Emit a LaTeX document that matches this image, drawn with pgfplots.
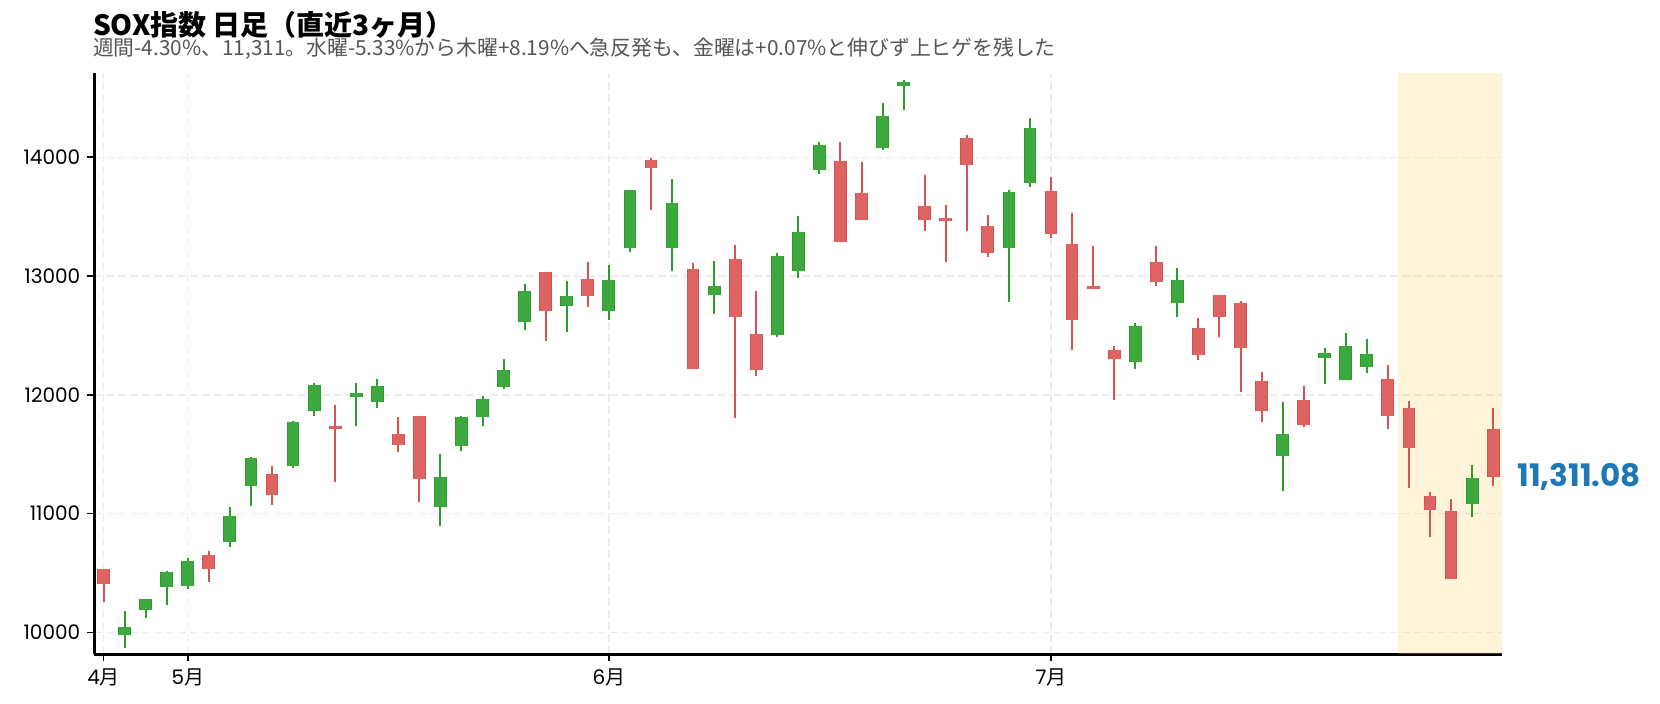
\documentclass[border=0pt]{standalone}
\usepackage{fontspec}
\usepackage{pgfplots}
\usepackage{pgfplotstable}
\pgfplotsset{compat=1.18}
\newfontfamily\cjk{Noto Sans CJK JP}
\newfontfamily\poppins{Poppins}
\definecolor{gfill}{RGB}{61,168,61}
\definecolor{gedge}{RGB}{44,156,44}
\definecolor{rfill}{RGB}{221,100,98}
\definecolor{redge}{RGB}{212,84,82}
\definecolor{shade}{RGB}{251,211,107}
\definecolor{gridc}{RGB}{236,236,236}
\definecolor{subgray}{RGB}{85,85,85}
\definecolor{lastblue}{RGB}{31,119,180}

\pgfplotstableread{
i O H L C
1 9980 10182 9869 10045
2 10187 10280 10117 10280
3 10380 10517 10232 10506
4 10389 10624 10369 10599
6 10758 11054 10722 10982
7 11236 11474 11066 11468
9 11404 11776 11385 11770
10 11866 12103 11821 12084
12 11983 12103 11737 12017
13 11941 12137 11885 12075
16 11052 11505 10898 11309
17 11572 11818 11527 11812
18 11815 11991 11737 11963
19 12064 12302 12050 12207
20 12610 12932 12546 12878
22 12744 12957 12532 12836
24 12702 13091 12629 12968
25 13239 13726 13203 13726
27 13239 13821 13043 13617
29 12839 13125 12683 12912
32 12504 13192 12484 13172
33 13045 13507 12984 13370
34 13896 14129 13857 14101
37 14078 14459 14062 14344
38 14602 14652 14395 14630
43 13238 13728 12782 13706
44 13784 14333 13748 14244
49 12272 12608 12219 12580
51 12776 13064 12656 12966
56 11482 11939 11194 11673
58 12308 12398 12087 12353
59 12124 12524 12124 12412
60 12233 12474 12185 12345
65 11079 11410 10967 11303
}\upcandles

\pgfplotstableread{
i O H L C
0 10537 10537 10252 10406
5 10654 10685 10428 10531
8 11334 11399 11074 11155
11 11737 11910 11267 11715
14 11670 11810 11519 11580
15 11821 11821 11096 11295
21 13038 13038 12456 12702
23 12979 13116 12741 12828
26 13978 13997 13552 13910
28 13063 13108 12215 12215
30 13147 13259 11802 12652
31 12509 12873 12162 12210
35 13969 14129 13289 13289
36 13698 13964 13474 13474
39 13588 13854 13378 13474
40 13488 13594 13118 13460
41 14160 14190 13378 13936
42 13423 13518 13160 13196
45 13714 13838 13320 13350
46 13272 13527 12379 12628
47 12916 13250 12894 12894
48 12378 12415 11958 12300
50 13118 13249 12916 12952
52 12563 12644 12294 12339
53 12840 12840 12488 12658
54 12776 12787 12026 12398
55 12118 12188 11774 11860
57 11958 12073 11726 11743
61 12135 12255 11715 11821
62 11891 11947 11219 11550
63 11152 11180 10799 11029
64 11018 11124 10449 10449
66 11715 11886 11236 11311.08
}\downcandles

\pgfplotsset{
  wick/.style={forget plot, only marks, mark=*, mark size=0pt,
    mark options={draw opacity=0, fill opacity=0},
    error bars/.cd, y dir=plus, y explicit, error mark=none,
    error bar style={draw=#1, draw opacity=1, line width=1pt, solid}},
  body/.style 2 args={forget plot, only marks, mark=*, mark size=0pt,
    mark options={draw opacity=0, fill opacity=0},
    error bars/.cd, y dir=plus, y explicit, error mark=none,
    error bar style={draw=#1, draw opacity=1, line width=#2, solid}},
}

\begin{document}
\begin{tikzpicture}
\useasboundingbox (0,0) rectangle (830pt,351.5pt);
\node[anchor=base west, inner sep=0, font=\cjk\bfseries\fontsize{14}{16}\selectfont, text=black]
  at (46.3pt,333.5pt) {SOX指数 日足（直近3ヶ月）};
\node[anchor=base west, inner sep=0, font=\cjk\fontsize{10.4}{12}\selectfont, text=subgray]
  at (46.3pt,323.8pt) {週間-4.30\%、11,311。水曜-5.33\%から木曜+8.19\%へ急反発も、金曜は+0.07\%と伸びず上ヒゲを残した};
\begin{axis}[
  at={(47.15pt,24.35pt)}, anchor=south west,
  scale only axis, width=703.85pt, height=290.8pt,
  xmin=-0.44, xmax=66.42, ymin=9815, ymax=14712,
  axis x line*=bottom, axis y line*=left,
  axis line style={line width=1.3pt, black, -},
  xtick={0,4,24,45},
  xticklabels={4{\cjk 月},5{\cjk 月},6{\cjk 月},7{\cjk 月}},
  ytick={10000,11000,12000,13000,14000},
  scaled y ticks=false,
  yticklabel style={/pgf/number format/fixed, /pgf/number format/1000 sep={}},
  /pgf/number format/assume math mode=true,
  tick label style={font=\poppins\fontsize{10}{12}\selectfont, text=black},
  tick align=outside, major tick length=3.5pt,
  tick style={line width=0.8pt, black},
  grid=major, grid style={dashed, dash pattern=on 4pt off 2pt, gridc, line width=0.7pt},
  clip=false,
]
\addplot[forget plot, fill=shade, fill opacity=0.25, draw=none]
  coordinates {(61.5,9815) (66.42,9815) (66.42,14712) (61.5,14712)} -- cycle;

% wicks
\addplot[wick=gedge] table[x=i, y=L, y error expr=\thisrow{H}-\thisrow{L}] {\upcandles};
\addplot[wick=redge] table[x=i, y=L, y error expr=\thisrow{H}-\thisrow{L}] {\downcandles};
% bodies (edge, then fill)
\addplot[body={gedge}{6.4pt}] table[x=i, y=O, y error expr=\thisrow{C}-\thisrow{O}] {\upcandles};
\addplot[body={gfill}{5.4pt}] table[x=i, y=O, y error expr=\thisrow{C}-\thisrow{O}] {\upcandles};
\addplot[body={redge}{6.4pt}] table[x=i, y=C, y error expr=\thisrow{O}-\thisrow{C}] {\downcandles};
\addplot[body={rfill}{5.4pt}] table[x=i, y=C, y error expr=\thisrow{O}-\thisrow{C}] {\downcandles};

\node[anchor=west, inner sep=0, text=lastblue, font=\poppins\bfseries\fontsize{15.5}{17}\selectfont, xshift=7.5pt]
  at (axis cs:66.42,11311.08) {11,311.08};
\end{axis}
\end{tikzpicture}
\end{document}
